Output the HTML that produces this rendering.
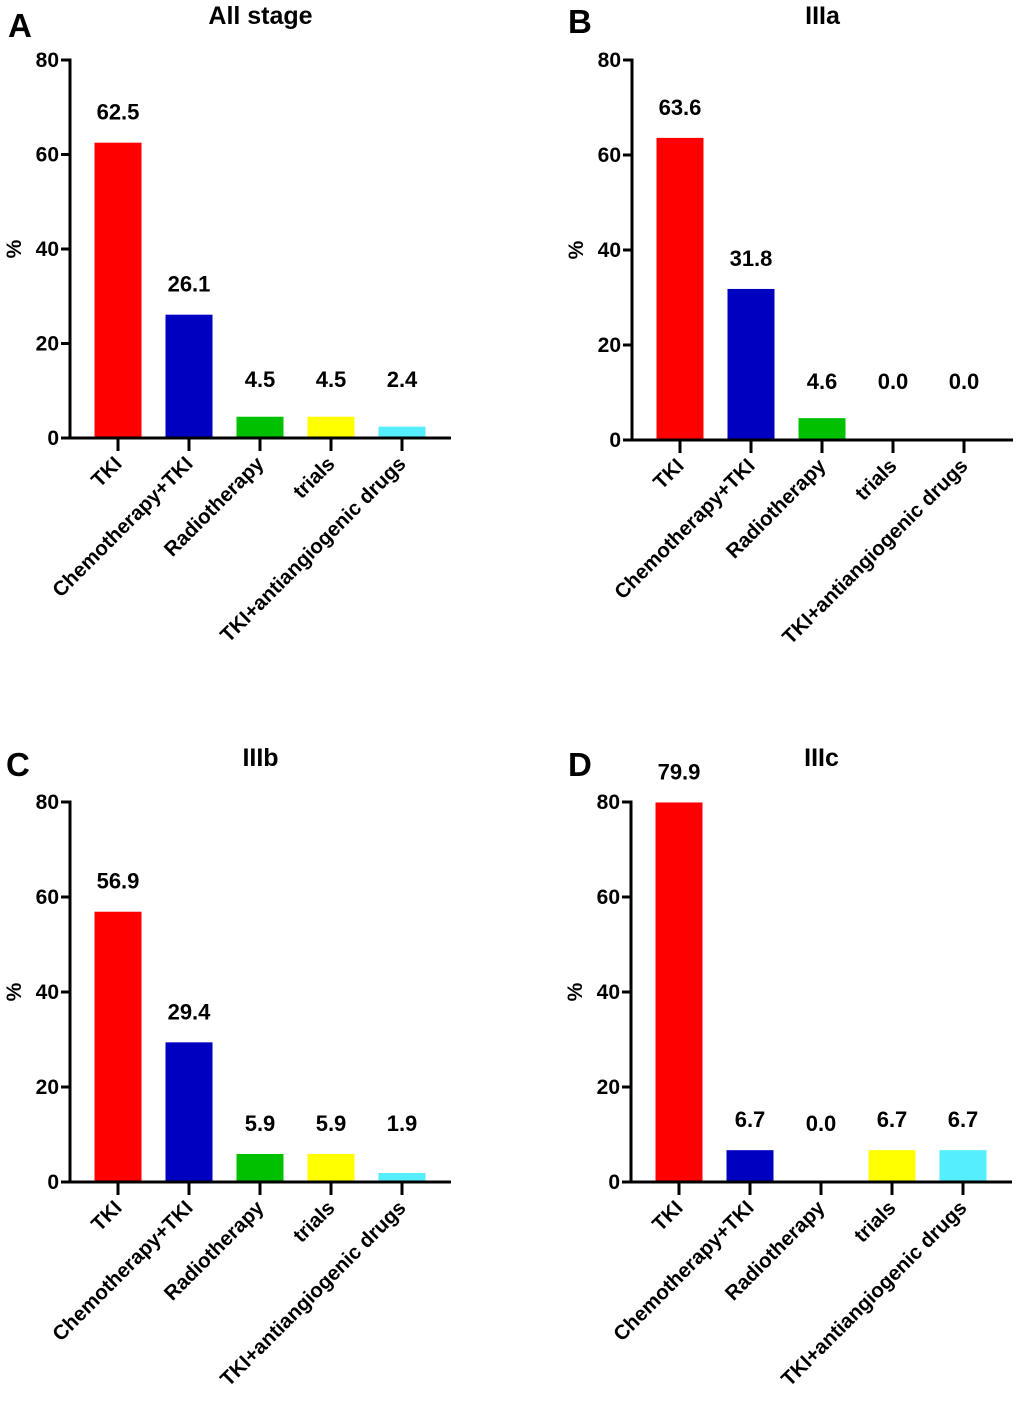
<!DOCTYPE html>
<html><head><meta charset="utf-8"><style>
body{margin:0;background:#fff}
svg text{font-family:"Liberation Sans",Arial,sans-serif;font-weight:bold;fill:#000}
</style></head><body>
<svg id="fig" width="1020" height="1396" viewBox="0 0 1020 1396" xmlns="http://www.w3.org/2000/svg"></svg>
<script>
const categories = ["TKI","Chemotherapy+TKI","Radiotherapy","trials","TKI+antiangiogenic drugs"];
const valuesA = [62.5, 26.1, 4.5, 4.5, 2.4];
const valuesB = [63.6, 31.8, 4.6, 0.0, 0.0];
const valuesC = [56.9, 29.4, 5.9, 5.9, 1.9];
const valuesD = [79.9, 6.7, 0.0, 6.7, 6.7];
const yTicks = [0, 20, 40, 60, 80];
const titles = ["All stage","IIIa","IIIb","IIIc"];
const letters = ["A","B","C","D"];
const colors = ["#ff0000","#0000c0","#00c000","#ffff00","#55eeff"];

const NS="http://www.w3.org/2000/svg";
const svg=document.getElementById('fig');
function mk(tag,attrs,parent){const e=document.createElementNS(NS,tag);for(const k in attrs)e.setAttribute(k,attrs[k]);(parent||svg).appendChild(e);return e;}

const panels=[
 {ox:70,y0:438,y80:60,vals:valuesA,lx:8,ly:37},
 {ox:632,y0:440,y80:60,vals:valuesB,lx:568,ly:33},
 {ox:70,y0:1182,y80:802,vals:valuesC,lx:6,ly:776},
 {ox:631,y0:1182,y80:802,vals:valuesD,lx:568,ly:776}
];
panels.forEach((p,pi)=>{
  const g=mk('g',{});
  
  
  const y=v=>p.y0-(v/80)*(p.y0-p.y80);
  const xc=i=>p.ox+48+i*71;
  const axEnd=p.ox+381;
  const L=mk('text',{x:p.lx,y:p.ly,'font-size':33},g);L.textContent=letters[pi];
  
  
  const T=mk('text',{x:(p.ox+axEnd)/2,y:p.y80-36,'font-size':25,'text-anchor':'middle'},g);T.textContent=titles[pi];
  
  
  const ya=mk('text',{x:0,y:0,'font-size':21,'text-anchor':'middle',transform:`translate(${p.ox-49},${(p.y0+p.y80)/2}) rotate(-90)`},g);ya.textContent='%';
  
  
  p.vals.forEach((v,i)=>{
    const r=mk('rect',{x:xc(i)-23.5,y:y(v),width:47,height:p.y0-y(v),fill:colors[i]},g);
    
    
    const ly=Math.min(y(v)-31,p.y0-59);
    const t=mk('text',{x:xc(i),y:ly+8,'font-size':22,'text-anchor':'middle'},g);t.textContent=v.toFixed(1);
    
    
    mk('line',{x1:xc(i),y1:p.y0,x2:xc(i),y2:p.y0+13,stroke:'#000','stroke-width':3},g);
    const c=mk('text',{x:0,y:0,'font-size':20.5,'text-anchor':'end',transform:`translate(${xc(i)+5},${p.y0+27}) rotate(-45)`},g);c.textContent=categories[i];
    
    
  });
  yTicks.forEach(t=>{
    mk('line',{x1:p.ox-9,y1:y(t),x2:p.ox,y2:y(t),stroke:'#000','stroke-width':3},g);
    const tl=mk('text',{x:p.ox-11,y:y(t)+7,'font-size':21,'text-anchor':'end'},g);tl.textContent=t;
    
    
  });
  const ax=mk('line',{x1:p.ox,y1:p.y80-1.5,x2:p.ox,y2:p.y0+1.5,stroke:'#000','stroke-width':3},g);
  
  
  const xa=mk('line',{x1:p.ox-1.5,y1:p.y0,x2:axEnd,y2:p.y0,stroke:'#000','stroke-width':3},g);
  
  
});
</script>
</body></html>
